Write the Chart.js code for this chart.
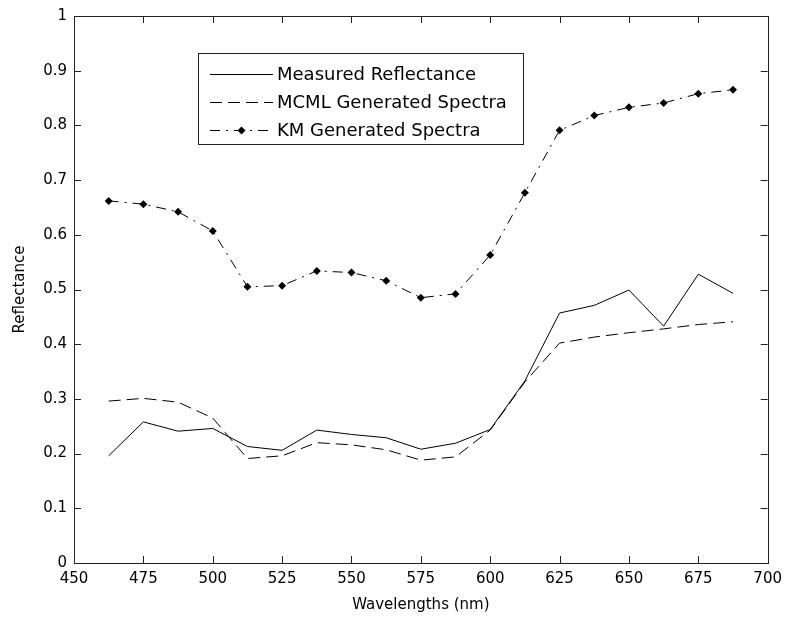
<!DOCTYPE html>
<html>
<head>
<meta charset="utf-8">
<title>Reflectance spectra</title>
<script src="https://cdn.jsdelivr.net/npm/chart.js@4.4.1/dist/chart.umd.min.js"></script>
<style>
  body { margin: 0; background: #fff; }
  #wrap { width: 789px; height: 623px; }
</style>
</head>
<body>
<div id="wrap"><canvas id="spectraChart" width="789" height="623"></canvas></div>
<script>
// wavelengths (nm) and the three spectra
const wavelengths = [462.5, 475, 487.5, 500, 512.5, 525, 537.5, 550, 562.5, 575,
                     587.5, 600, 612.5, 625, 637.5, 650, 662.5, 675, 687.5];
const measured = [0.196, 0.258, 0.241, 0.246, 0.213, 0.206, 0.243, 0.235, 0.229, 0.208,
                  0.219, 0.244, 0.333, 0.457, 0.471, 0.499, 0.433, 0.528, 0.493];
const mcml = [0.296, 0.301, 0.294, 0.265, 0.191, 0.196, 0.220, 0.216, 0.207, 0.188,
              0.194, 0.243, 0.331, 0.402, 0.413, 0.421, 0.428, 0.436, 0.441];
const km = [0.662, 0.656, 0.642, 0.607, 0.505, 0.507, 0.534, 0.531, 0.516, 0.485,
            0.492, 0.563, 0.677, 0.791, 0.818, 0.833, 0.841, 0.858, 0.865];
const seriesNames = ['Measured Reflectance', 'MCML Generated Spectra', 'KM Generated Spectra'];
const xTicks = [450, 475, 500, 525, 550, 575, 600, 625, 650, 675, 700];
const yTicks = [0, 0.1, 0.2, 0.3, 0.4, 0.5, 0.6, 0.7, 0.8, 0.9, 1];

const FONT = 'DejaVu Sans';
const INK = '#000';
const toPoints = vals => vals.map((v, i) => ({ x: wavelengths[i], y: v }));

// box around the axes with inward ticks on all four sides
const axesFrame = {
    id: 'axesFrame',
    afterDraw(chart) {
        const { ctx, chartArea: a, scales } = chart;
        const len = 7;
        ctx.save();
        ctx.strokeStyle = '#222';
        ctx.lineWidth = 1;
        ctx.strokeRect(Math.round(a.left) + 0.5, Math.round(a.top) + 0.5,
                       Math.round(a.right - a.left), Math.round(a.bottom - a.top));
        ctx.beginPath();
        xTicks.forEach(t => {
            const px = Math.round(scales.x.getPixelForValue(t)) + 0.5;
            ctx.moveTo(px, a.bottom); ctx.lineTo(px, a.bottom - len);
            ctx.moveTo(px, a.top); ctx.lineTo(px, a.top + len);
        });
        yTicks.forEach(t => {
            const py = Math.round(scales.y.getPixelForValue(t)) + 0.5;
            ctx.moveTo(a.left, py); ctx.lineTo(a.left + len, py);
            ctx.moveTo(a.right, py); ctx.lineTo(a.right - len, py);
        });
        ctx.stroke();
        ctx.restore();
    }
};

// boxed legend inside the plot, top left
const boxLegend = {
    id: 'boxLegend',
    afterDraw(chart) {
        const ctx = chart.ctx;
        const box = { x: 198.5, y: 53.5, w: 325, h: 91 };
        const rows = [74, 102, 130];
        ctx.save();
        ctx.fillStyle = '#fff';
        ctx.fillRect(box.x, box.y, box.w, box.h);
        ctx.strokeStyle = '#222';
        ctx.lineWidth = 1;
        ctx.strokeRect(box.x, box.y, box.w, box.h);
        chart.data.datasets.forEach((ds, i) => {
            const y = rows[i] + 0.5;
            ctx.strokeStyle = ds.borderColor;
            ctx.setLineDash(ds.borderDash || []);
            ctx.beginPath();
            ctx.moveTo(210, y); ctx.lineTo(273, y);
            ctx.stroke();
            ctx.setLineDash([]);
            if (ds.pointRadius > 0) {
                ctx.fillStyle = ds.pointBackgroundColor;
                ctx.beginPath();
                ctx.moveTo(241.5, y - 4); ctx.lineTo(245.5, y);
                ctx.lineTo(241.5, y + 4); ctx.lineTo(237.5, y);
                ctx.closePath();
                ctx.fill();
            }
            ctx.fillStyle = INK;
            ctx.font = '18px "' + FONT + '"';
            ctx.textBaseline = 'middle';
            ctx.fillText(ds.label, 277, rows[i] + 1);
        });
        ctx.restore();
    }
};

new Chart(document.getElementById('spectraChart').getContext('2d'), {
    type: 'line',
    data: {
        datasets: [
            { label: seriesNames[0], data: toPoints(measured), borderColor: INK, borderWidth: 1,
              pointRadius: 0 },
            { label: seriesNames[1], data: toPoints(mcml), borderColor: INK, borderWidth: 1,
              borderDash: [12, 6], pointRadius: 0 },
            { label: seriesNames[2], data: toPoints(km), borderColor: INK, borderWidth: 1,
              borderDash: [10, 6, 2, 6], pointRadius: 4, pointStyle: 'rectRot',
              pointBackgroundColor: INK, pointBorderColor: INK, pointBorderWidth: 0 }
        ]
    },
    options: {
        responsive: false,
        animation: false,
        layout: { padding: { left: 0, right: 17, top: 15, bottom: 0 } },
        plugins: { legend: { display: false }, tooltip: { enabled: false } },
        scales: {
            x: {
                type: 'linear', min: 450, max: 700,
                afterFit: s => { s.height = 60; },
                afterBuildTicks: s => { s.ticks = xTicks.map(v => ({ value: v })); },
                grid: { display: false, drawTicks: false },
                border: { display: false },
                ticks: { color: INK, padding: 7, maxRotation: 0, autoSkip: false,
                         font: { family: FONT, size: 15 } },
                title: { display: true, text: 'Wavelengths (nm)', color: INK,
                         font: { family: FONT, size: 15 }, padding: { top: 0, bottom: 9 } }
            },
            y: {
                min: 0, max: 1,
                afterFit: s => { s.width = 74; },
                afterBuildTicks: s => { s.ticks = yTicks.map(v => ({ value: v })); },
                grid: { display: false, drawTicks: false },
                border: { display: false },
                ticks: { color: INK, padding: 7, autoSkip: false,
                         font: { family: FONT, size: 15 },
                         callback: v => String(Math.round(v * 10) / 10) },
                title: { display: true, text: 'Reflectance', color: INK,
                         font: { family: FONT, size: 15 }, padding: { top: 11, bottom: 0 } }
            }
        }
    },
    plugins: [axesFrame, boxLegend]
});
</script>
</body>
</html>
